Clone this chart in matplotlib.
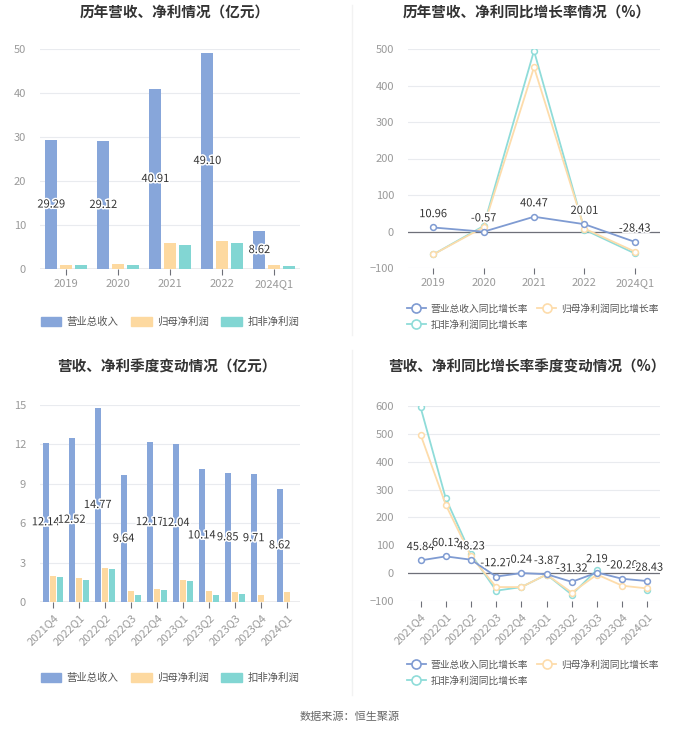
import numpy as np
import matplotlib
matplotlib.use('Agg')
import matplotlib.pyplot as plt
import matplotlib.patheffects as pe
from matplotlib.lines import Line2D

plt.rcParams['font.family'] = ['Noto Sans CJK SC', 'DejaVu Sans']

# yearly data (亿元)
years = ['2019', '2020', '2021', '2022', '2024Q1']
rev_y = [29.29, 29.12, 40.91, 49.10, 8.62]
net_y = [0.9, 1.2, 5.8, 6.3, 0.8]
ded_y = [0.8, 1.0, 5.5, 5.8, 0.6]

# yearly growth (%)
rev_g_y = [10.96, -0.57, 40.47, 20.01, -28.43]
net_g_y = [-63, 12, 450, 8, -55]
ded_g_y = [-63, 15, 495, 5, -60]

# quarterly data (亿元)
quarters = ['2021Q4', '2022Q1', '2022Q2', '2022Q3', '2022Q4',
            '2023Q1', '2023Q2', '2023Q3', '2023Q4', '2024Q1']
rev_q = [12.14, 12.52, 14.77, 9.64, 12.17, 12.04, 10.14, 9.85, 9.71, 8.62]
net_q = [1.95, 1.8, 2.6, 0.8, 1.0, 1.65, 0.85, 0.75, 0.55, 0.75]
ded_q = [1.9, 1.7, 2.5, 0.55, 0.95, 1.6, 0.55, 0.6, np.nan, np.nan]

# quarterly growth (%)
rev_g_q = [45.84, 60.13, 48.23, -12.27, 0.24, -3.87, -31.32, 2.19, -20.20, -28.43]
net_g_q = [497, 245, 60, -50, -50, -5, -70, -5, -45, -55]
ded_g_q = [595, 268, 68, -63, -50, -5, -77, 12, np.nan, -60]

BLUE = '#87a6da'
ORANGE = '#fdd9a0'
TEAL = '#82d6d3'
LBLUE = '#7f9bd2'
LORANGE = '#fddcab'
LTEAL = '#8fdcd9'
GRID = '#e9ebef'
TICK = '#9a9a9a'

W, H = 700, 734
fig = plt.figure(figsize=(W / 100, H / 100), dpi=100)


def box(x0, x1, ytop, ybot):
    return [x0 / W, 1 - ybot / H, (x1 - x0) / W, (ybot - ytop) / H]


def style(ax, ylim, yticks):
    ax.set_ylim(*ylim)
    ax.set_yticks(yticks)
    ax.grid(axis='y', color=GRID, lw=0.8)
    ax.set_axisbelow(True)
    for s in ['top', 'right', 'left', 'bottom']:
        ax.spines[s].set_visible(False)
    ax.axhline(0, color='#6e7079', lw=0.9, zorder=1)
    ax.tick_params(axis='y', length=0, labelcolor=TICK, labelsize=8, pad=10)
    ax.tick_params(axis='x', length=4, color='#6e7079', labelcolor=TICK, labelsize=8)


outline = [pe.withStroke(linewidth=2.2, foreground='white')]


def set_cats(ax, cats, rot):
    x = np.arange(len(cats))
    ax.set_xlim(-0.5, len(cats) - 0.5)
    ax.set_xticks(x)
    if rot:
        ax.set_xticklabels(cats, rotation=45, ha='right', rotation_mode='anchor')
    else:
        ax.set_xticklabels(cats)


def bar_chart(ax, cats, rev, net, ded, ylim, yticks, rot):
    x = np.arange(len(cats))
    w = 0.23
    ax.bar(x - 0.28, rev, w, color=BLUE, zorder=2)
    ax.bar(x, net, w, color=ORANGE, zorder=2)
    ax.bar(x + 0.28, ded, w, color=TEAL, zorder=2)
    for xi, v in zip(x, rev):
        ax.text(xi - 0.28, v / 2, '%.2f' % v, ha='center', va='center',
                fontsize=8, color='#333333', path_effects=outline, zorder=4)
    style(ax, ylim, yticks)
    set_cats(ax, cats, rot)


def line_chart(ax, cats, rev, net, ded, ylim, yticks, rot):
    x = np.arange(len(cats))
    mk = dict(marker='o', markersize=4.2, markerfacecolor='white', markeredgewidth=1.1, lw=1.3)
    ax.plot(x, ded, color=LTEAL, zorder=3, **mk)
    ax.plot(x, net, color=LORANGE, zorder=3, **mk)
    ax.plot(x, rev, color=LBLUE, zorder=4, **mk)
    for xi, v in zip(x, rev):
        ax.annotate('%.2f' % v, (xi, v), xytext=(0, 6), textcoords='offset points',
                    ha='center', va='bottom', fontsize=8, color='#333333',
                    path_effects=outline, zorder=5)
    style(ax, ylim, yticks)
    set_cats(ax, cats, rot)


def bar_legend(y):
    hs = [plt.Rectangle((0, 0), 1, 1, color=c) for c in (BLUE, ORANGE, TEAL)]
    fig.legend(hs, ['营业总收入', '归母净利润', '扣非净利润'], loc='center',
               bbox_to_anchor=(170 / W, 1 - y / H), ncol=3, frameon=False,
               fontsize=7.5, handlelength=2.0, handleheight=1.0, columnspacing=1.2,
               handletextpad=0.5, labelcolor='#555555')


def line_legend(y):
    def h(c):
        return Line2D([0], [0], color=c, marker='o', markersize=6.5, markerfacecolor='white',
                      markeredgewidth=1.2, lw=1.3)
    fig.legend([h(LBLUE), h(LTEAL), h(LORANGE)],
               ['营业总收入同比增长率', '扣非净利润同比增长率', '归母净利润同比增长率'],
               loc='upper left', bbox_to_anchor=(398 / W, 1 - y / H), ncol=2,
               frameon=False, fontsize=7, handlelength=2.0, columnspacing=0.9,
               handletextpad=0.45, labelspacing=0.6, labelcolor='#555555')


ax1 = fig.add_axes(box(40, 300, 49, 269))
bar_chart(ax1, years, rev_y, net_y, ded_y, (0, 50), range(0, 51, 10), False)
ax2 = fig.add_axes(box(408, 660, 49, 268))
line_chart(ax2, years, rev_g_y, net_g_y, ded_g_y, (-100, 500), range(-100, 501, 100), False)
ax3 = fig.add_axes(box(40, 300, 405, 602))
bar_chart(ax3, quarters, rev_q, net_q, ded_q, (0, 15), range(0, 16, 3), True)
ax4 = fig.add_axes(box(408, 660, 406, 601))
line_chart(ax4, quarters, rev_g_q, net_g_q, ded_g_q, (-100, 600), range(-100, 601, 100), True)

tkw = dict(ha='center', va='center', fontsize=10.5, fontweight='bold', color='#333333')
fig.text(175 / W, 1 - 13 / H, '历年营收、净利情况（亿元）', **tkw)
fig.text(527 / W, 1 - 13 / H, '历年营收、净利同比增长率情况（%）', **tkw)
fig.text(167 / W, 1 - 367 / H, '营收、净利季度变动情况（亿元）', **tkw)
fig.text(527 / W, 1 - 367 / H, '营收、净利同比增长率季度变动情况（%）', **tkw)

bar_legend(322)
line_legend(295)
bar_legend(678)
line_legend(651)

# faint panel dividers
fig.add_artist(Line2D([352 / W, 352 / W], [1 - 5 / H, 1 - 335 / H], color='#f2f2f2', lw=1))
fig.add_artist(Line2D([352 / W, 352 / W], [1 - 350 / H, 1 - 695 / H], color='#f2f2f2', lw=1))

fig.text(350 / W, 1 - 717 / H, '数据来源：恒生聚源', ha='center', va='center',
         fontsize=8, color='#666666')

fig.savefig('out.png', dpi=100, facecolor='white')
